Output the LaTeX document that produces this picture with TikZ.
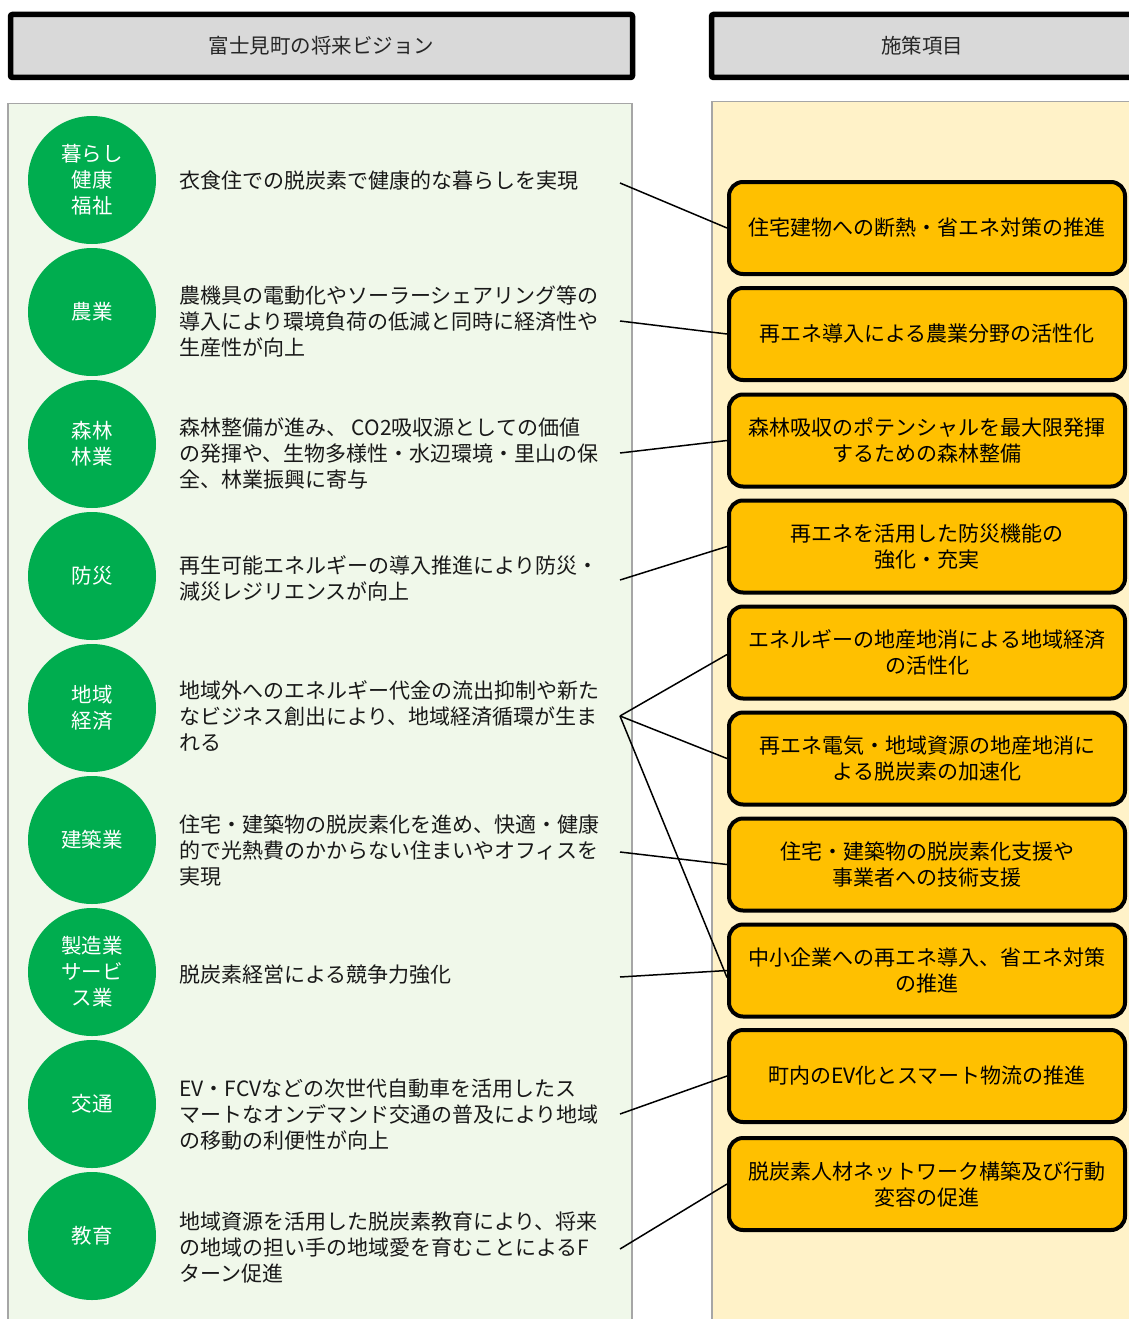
\documentclass[tikz,border=0pt]{standalone}
\usepackage{fontspec}
\setmainfont{Noto Sans CJK JP}
\usetikzlibrary{shapes.geometric}
\definecolor{hdrgray}{HTML}{D9D9D9}
\definecolor{greenpanel}{HTML}{F0F8EA}
\definecolor{goldpanel}{HTML}{FFF2C8}
\definecolor{panelborder}{HTML}{A6A6A6}
\definecolor{circgreen}{HTML}{00AD4F}
\definecolor{boxorange}{HTML}{FFC000}
\begin{document}
\begin{tikzpicture}[x=1pt,y=-1pt,
  hdr/.style={draw=black, line width=5.5pt, fill=hdrgray, rounded corners=2pt},
  panel/.style={draw=panelborder, line width=1.3pt},
  circ/.style={circle, fill=circgreen, minimum size=128pt, inner sep=0pt, text=white, align=center, font=\fontsize{20.5}{26}\selectfont},
  desc/.style={anchor=west, align=left, inner sep=0pt, text=black!90, font=\fontsize{21}{26}\selectfont},
  measure/.style={draw=black, line width=4pt, fill=boxorange, rounded corners=14pt, minimum width=396pt, minimum height=92pt, inner sep=0pt, align=center, text=black, font=\fontsize{21}{26}\selectfont},
  conn/.style={draw=black, line width=1.5pt}]
\useasboundingbox (0,0) rectangle (1129,1319);
\clip (0,0) rectangle (1129,1319);
% headers
\draw[hdr] (10.5,14.5) rectangle (632.5,77.5);
\node[font=\fontsize{20.5}{24}\selectfont, text=black!85] (h1) at (321.5,46) {富士見町の将来ビジョン};
\draw[hdr] (711.5,14.5) rectangle (1140,77.5);
\node[font=\fontsize{20.5}{24}\selectfont, text=black!85] (h2) at (922,46) {施策項目};
% panels
\fill[greenpanel] (8,103.5) rectangle (632,1330);
\draw[panel] (8,1330) -- (8,103.5) -- (632,103.5) -- (632,1330);
\fill[goldpanel] (712,101.5) rectangle (1140,1330);
\draw[panel] (712,1330) -- (712,101.5) -- (1140,101.5);
% circles
\node[circ] (c1) at (92,180) {暮らし\\健康\\福祉};
\node[circ] (c2) at (92,312) {農業};
\node[circ] (c3) at (92,444) {森林\\林業};
\node[circ] (c4) at (92,576) {防災};
\node[circ] (c5) at (92,708) {地域\\経済};
\node[circ] (c6) at (92,840) {建築業};
\node[circ] (c7) at (92,972) {製造業\\サービ\\ス業};
\node[circ] (c8) at (92,1104) {交通};
\node[circ] (c9) at (92,1236) {教育};
% descriptions
\node[desc] (t1) at (179,181) {衣食住での脱炭素で健康的な暮らしを実現};
\node[desc] (t2) at (179,321) {農機具の電動化やソーラーシェアリング等の\\導入により環境負荷の低減と同時に経済性や\\生産性が向上};
\node[desc] (t3) at (179,453) {森林整備が進み、 CO2吸収源としての価値\\の発揮や、生物多様性・水辺環境・里山の保\\全、林業振興に寄与};
\node[desc] (t4) at (179,578) {再生可能エネルギーの導入推進により防災・\\減災レジリエンスが向上};
\node[desc] (t5) at (179,716) {地域外へのエネルギー代金の流出抑制や新た\\なビジネス創出により、地域経済循環が生ま\\れる};
\node[desc] (t6) at (179,851) {住宅・建築物の脱炭素化を進め、快適・健康\\的で光熱費のかからない住まいやオフィスを\\実現};
\node[desc] (t7) at (179,975) {脱炭素経営による競争力強化};
\node[desc] (t8) at (179,1115) {EV・FCVなどの次世代自動車を活用したス\\マートなオンデマンド交通の普及により地域\\の移動の利便性が向上};
\node[desc] (t9) at (179,1248) {地域資源を活用した脱炭素教育により、将来\\の地域の担い手の地域愛を育むことによるF\\ターン促進};
% connector start points
\coordinate (d1) at (620,183);
\coordinate (d2) at (620,321);
\coordinate (d3) at (620,453);
\coordinate (d4) at (620,580);
\coordinate (d5) at (620,716);
\coordinate (d6) at (620,852);
\coordinate (d7) at (620,977);
\coordinate (d8) at (620,1114);
\coordinate (d9) at (620,1249);
% measure boxes
\node[measure] (b1) at (927,228) {住宅建物への断熱・省エネ対策の推進};
\node[measure] (b2) at (927,334) {再エネ導入による農業分野の活性化};
\node[measure] (b3) at (927,440.5) {森林吸収のポテンシャルを最大限発揮\\するための森林整備};
\node[measure] (b4) at (927,546.5) {再エネを活用した防災機能の\\強化・充実};
\node[measure] (b5) at (927,652.5) {エネルギーの地産地消による地域経済\\の活性化};
\node[measure] (b6) at (927,758.5) {再エネ電気・地域資源の地産地消に\\よる脱炭素の加速化};
\node[measure] (b7) at (927,864.5) {住宅・建築物の脱炭素化支援や\\事業者への技術支援};
\node[measure] (b8) at (927,970.5) {中小企業への再エネ導入、省エネ対策\\の推進};
\node[measure] (b9) at (927,1076) {町内のEV化とスマート物流の推進};
\node[measure] (b10) at (927,1184) {脱炭素人材ネットワーク構築及び行動\\変容の促進};
% connectors
\draw[conn] (d1) -- (b1.west);
\draw[conn] (d2) -- (b2.west);
\draw[conn] (d3) -- (b3.west);
\draw[conn] (d4) -- (b4.west);
\draw[conn] (d5) -- ([yshift=-2pt]b5.west);
\draw[conn] (d5) -- (b6.west);
\draw[conn] (d5) -- ([yshift=-7pt]b8.west);
\draw[conn] (d6) -- (b7.west);
\draw[conn] (d7) -- (b8.west);
\draw[conn] (d8) -- (b9.west);
\draw[conn] (d9) -- (b10.west);
\end{tikzpicture}
\end{document}
